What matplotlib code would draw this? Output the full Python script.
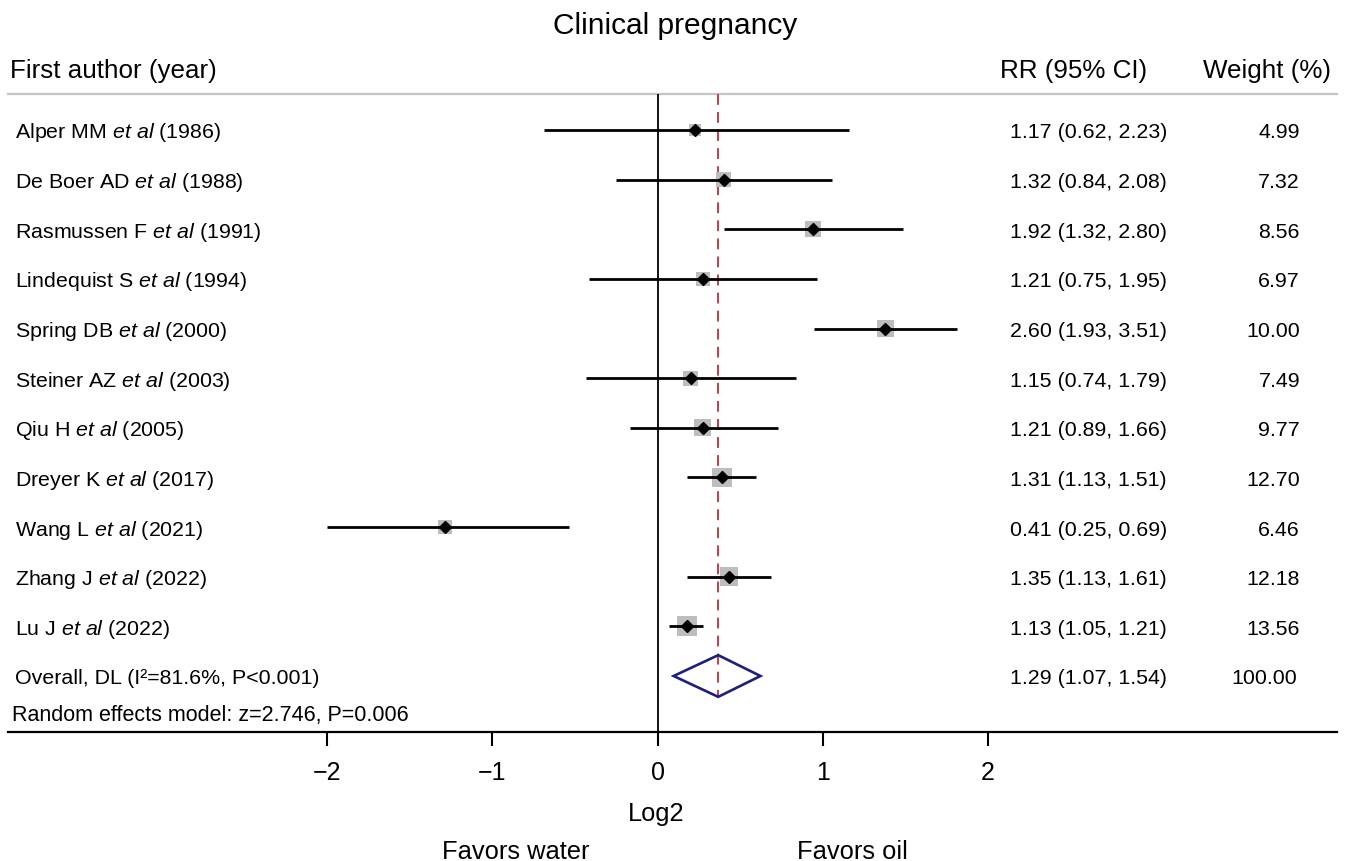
import matplotlib
matplotlib.use('Agg')
from matplotlib import pyplot as plt
from matplotlib.patches import Polygon
import numpy as np

plt.rcParams['font.family'] = ['Liberation Sans', 'DejaVu Sans']
plt.rcParams['mathtext.fontset'] = 'custom'
plt.rcParams['mathtext.rm'] = 'Liberation Sans'
plt.rcParams['mathtext.it'] = 'Liberation Sans:italic'

# Studier (forfatter, år) med RR og 95% KI
forfattere = ['Alper MM', 'De Boer AD', 'Rasmussen F', 'Lindequist S', 'Spring DB',
              'Steiner AZ', 'Qiu H', 'Dreyer K', 'Wang L', 'Zhang J', 'Lu J']
aar = [1986, 1988, 1991, 1994, 2000, 2003, 2005, 2017, 2021, 2022, 2022]
rr = [1.17, 1.32, 1.92, 1.21, 2.60, 1.15, 1.21, 1.31, 0.41, 1.35, 1.13]
ki_lav = [0.62, 0.84, 1.32, 0.75, 1.93, 0.74, 0.89, 1.13, 0.25, 1.13, 1.05]
ki_hoy = [2.23, 2.08, 2.80, 1.95, 3.51, 1.79, 1.66, 1.51, 0.69, 1.61, 1.21]
vekt = [4.99, 7.32, 8.56, 6.97, 10.00, 7.49, 9.77, 12.70, 6.46, 12.18, 13.56]

# Samlet estimat
rr_tot, lav_tot, hoy_tot = 1.29, 1.07, 1.54
vekt_tot = '100.00'
i2_tekst = 'Overall, DL (I²=81.6%, P<0.001)'
modell_tekst = 'Random effects model: z=2.746, P=0.006'
xticks = [-2, -1, 0, 1, 2]

n = len(rr)
rader = np.arange(n)
rad_tot = n

est = np.log2(rr)
lav = np.log2(ki_lav)
hoy = np.log2(ki_hoy)

W, H = 1345, 862
fig = plt.figure(figsize=(W / 100, H / 100), dpi=100)

# Plott-området: fra linja under overskriften til aksen
px_per = 165.25
ax_l, ax_r = 8, 1337
ax_top, ax_bot = 95, 733
ax = fig.add_axes([ax_l / W, 1 - ax_bot / H, (ax_r - ax_l) / W, (ax_bot - ax_top) / H])
ax.set_xlim(-2 - (327 - ax_l) / px_per, -2 + (ax_r - 327) / px_per)
rad_px = (677 - 131) / 11
ax.set_ylim((ax_bot - 131) / rad_px, (ax_top - 131) / rad_px)

for s in ['top', 'left', 'right']:
    ax.spines[s].set_visible(False)
ax.spines['bottom'].set_linewidth(1.6)
ax.set_yticks([])
ax.set_xticks(xticks)
ax.set_xticklabels(['\u2212' + str(abs(t)) if t < 0 else str(t) for t in xticks])
ax.tick_params(axis='x', length=10, width=1.5, labelsize=18, pad=10)

# Linjer
ax.axhline(ax.get_ylim()[1], color='#c4c4c4', lw=1.6, clip_on=False)
ax.axvline(0, color='black', lw=1.3)
ax.plot([np.log2(rr_tot)] * 2, [ax.get_ylim()[1], rad_tot + 0.45],
        color='#b5323f', lw=1.3, dashes=(6, 4))

# Studiene
ax.scatter(est, rader, marker='s', s=(3.9 * np.sqrt(vekt)) ** 2,
           color='#bdbdbd', zorder=2, linewidths=0)
ax.hlines(rader, lav, hoy, color='black', lw=2.0, zorder=3)
ax.plot(est, rader, 'kD', markersize=6.5, zorder=4)

# Diamant for samlet estimat
h = 0.42
diamant = Polygon([[np.log2(lav_tot), rad_tot], [np.log2(rr_tot), rad_tot - h],
                   [np.log2(hoy_tot), rad_tot], [np.log2(rr_tot), rad_tot + h]],
                  closed=True, fill=False, edgecolor='#1c1f7c', lw=1.9, zorder=4)
ax.add_patch(diamant)

# Tekstkolonner (litt nedover så de står midt på radene)
fs = 15.4
dy = 0.04
tr = ax.get_yaxis_transform()
ax_x = lambda px: (px - ax_l) / (ax_r - ax_l)
for i in range(n):
    ax.text(ax_x(15), i + dy, forfattere[i] + ' $\\mathit{et\\ al}$ (' + str(aar[i]) + ')',
            transform=tr, va='center', ha='left', fontsize=fs)
    ax.text(ax_x(1010), i + dy, f'{rr[i]:.2f} ({ki_lav[i]:.2f}, {ki_hoy[i]:.2f})',
            transform=tr, va='center', ha='left', fontsize=fs)
    ax.text(ax_x(1300), i + dy, f'{vekt[i]:.2f}', transform=tr, va='center',
            ha='right', fontsize=fs)

ax.text(ax_x(15), rad_tot + dy, i2_tekst, transform=tr, va='center', ha='left', fontsize=fs)
ax.text(ax_x(1010), rad_tot + dy, f'{rr_tot:.2f} ({lav_tot:.2f}, {hoy_tot:.2f})',
        transform=tr, va='center', ha='left', fontsize=fs)
ax.text(ax_x(1297), rad_tot + dy, vekt_tot, transform=tr,
        va='center', ha='right', fontsize=fs)
ax.text(ax_x(12), (716 - 131) / rad_px, modell_tekst, transform=tr,
        va='center', ha='left', fontsize=15.5)

# Overskrifter
fig.text(675 / W, 1 - 26 / H, 'Clinical pregnancy', ha='center', va='center', fontsize=21.5)
fig.text(10 / W, 1 - 71 / H, 'First author (year)', ha='left', va='center', fontsize=18.7)
fig.text(1000 / W, 1 - 71 / H, 'RR (95% CI)', ha='left', va='center', fontsize=18.7)
fig.text(1203 / W, 1 - 71 / H, 'Weight (%)', ha='left', va='center', fontsize=18.7)

fig.text(656 / W, 1 - 814 / H, 'Log2', ha='center', va='center', fontsize=18.3)
fig.text(516 / W, 1 - 852 / H, 'Favors water', ha='center', va='center', fontsize=18.4)
fig.text(852 / W, 1 - 852 / H, 'Favors oil', ha='center', va='center', fontsize=18.4)

fig.savefig('out.png', dpi=100)
